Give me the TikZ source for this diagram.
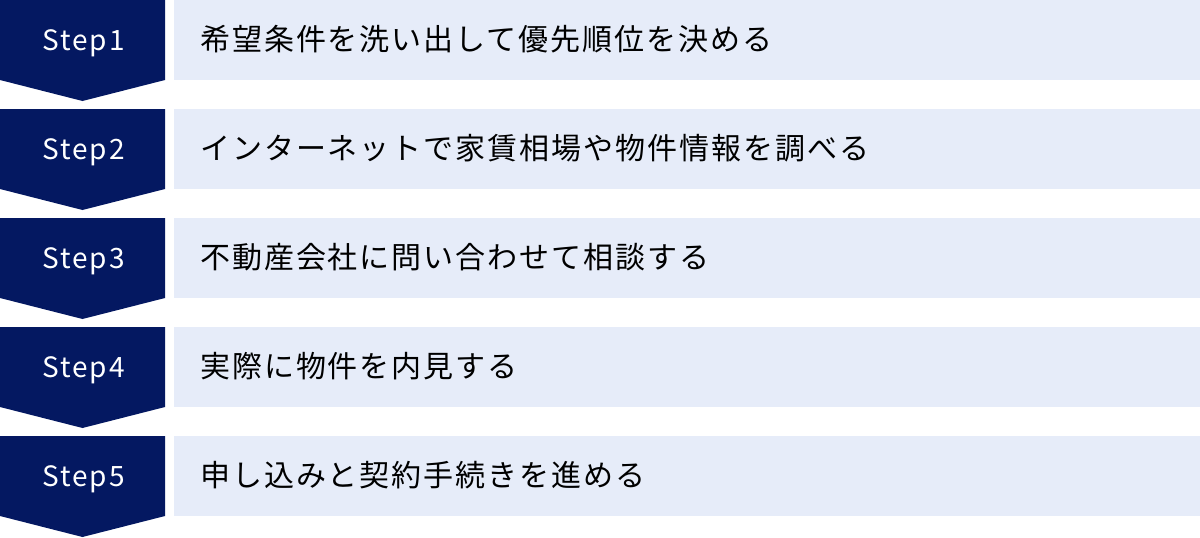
\documentclass[tikz,border=0pt]{standalone}
\usepackage{fontspec}
\setmainfont{Noto Sans CJK JP}[LetterSpace=6.5]
\newfontfamily\stepfont{Noto Sans CJK JP}[LetterSpace=7.5]
\definecolor{navy}{HTML}{041861}
\definecolor{pale}{HTML}{E6ECF9}
\tikzset{
  stepshape/.style={fill=navy, draw=none},
  rowbox/.style={fill=pale, draw=none},
  steplabel/.style={text=white, font=\stepfont\fontsize{28}{32}\selectfont, inner sep=0pt, anchor=base},
  rowlabel/.style={text=black, font=\fontsize{30}{36}\selectfont, inner sep=0pt, anchor=base west},
}
\begin{document}
\begin{tikzpicture}[x=1pt,y=-1pt]
\useasboundingbox (0,0) rectangle (1200,538);
\foreach \i/\txt [count=\k from 0] in {1/希望条件を洗い出して優先順位を決める,2/インターネットで家賃相場や物件情報を調べる,3/不動産会社に問い合わせて相談する,4/実際に物件を内見する,5/申し込みと契約手続きを進める}{
  \pgfmathsetmacro{\top}{109*\k}
  \fill[stepshape] (0,\top) -- (165,\top) -- (165,\top+80) -- (82.5,\top+101) -- (0,\top+80) -- cycle;
  \fill[rowbox] (174,\top) rectangle (1200,\top+80);
  \node[steplabel] (s\i) at (83.5,\top+50.6) {Step\i};
  \node[rowlabel] (t\i) at (200,\top+50) {\txt};
}
\end{tikzpicture}
\end{document}
